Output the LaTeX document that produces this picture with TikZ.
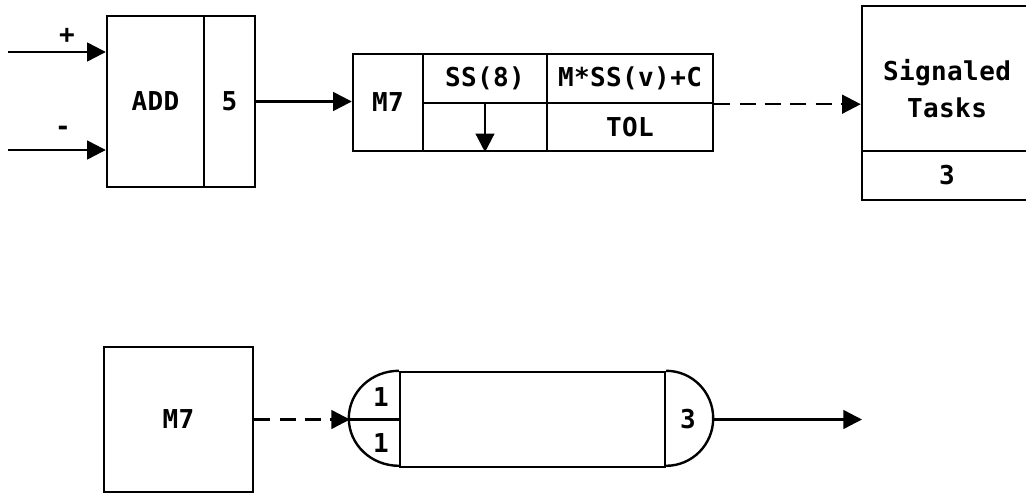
\documentclass[tikz,border=0pt]{standalone}
\usepackage{fontspec}
\newfontfamily\lab{DejaVu Sans Mono Bold}[LetterSpace=1.5]
\usetikzlibrary{arrows.meta}
\begin{document}
\begin{tikzpicture}[x=0.75pt,y=0.75pt,line width=1.8pt,
  every node/.style={font=\lab\fontsize{19.5}{27.75}\selectfont,inner sep=0pt},
  box/.style={draw,rectangle,inner sep=0pt},
  arr/.style={-{Triangle[length=14pt,width=14pt]}},
  dsh/.style={arr,dash pattern=on 12pt off 7pt}]
\clip (0,0) rectangle (1026,494);
% top left: ADD
\node[box,minimum width=72.75pt,minimum height=128.25pt] (addL) at (155.5,392.5) {ADD};
\node[box,minimum width=38.25pt,minimum height=128.25pt] (addR) at (229.5,392.5) {5};
\coordinate (inP) at (8,442);
\coordinate (inM) at (8,344);
\draw[arr] (inP) -- (inP -| addL.west);
\draw[arr] (inM) -- (inM -| addL.west);
\node (plus) at (67,458) {+};
\node (minus) at (63,363) {-};
% middle block
\node[box,minimum width=52.5pt,minimum height=72.75pt] (m7) at (388,391.5) {M7};
\node[box,minimum width=93pt,minimum height=36.75pt] (ss8) at (485,415.5) {SS(8)};
\node[box,minimum width=93pt,minimum height=36pt] (ssb) at (485,367) {};
\node[box,minimum width=124.5pt,minimum height=36.75pt] (mss) at (630,415.5) {M*SS(v)+C};
\node[box,minimum width=124.5pt,minimum height=36pt] (tol) at (630,367) {TOL};
\draw[arr] (addR.east) -- (addR.east -| m7.west);
\draw[arr] (ssb.north) -- (ssb.south);
% signaled tasks
\node[box,minimum width=127.5pt,minimum height=108.75pt] (sig) at (947,415.5) {};
\node[box,minimum width=127.5pt,minimum height=36.75pt] (sigb) at (947,318.5) {3};
\node[align=center] (sigtxt) at (947,405) {Signaled\\Tasks};
\draw[dsh] (mss.south east) -- (mss.south east -| sig.west);
% bottom
\node[box,minimum width=111.75pt,minimum height=108.75pt] (m7b) at (178.5,74.5) {M7};
\node[box,minimum width=198.75pt,minimum height=71.25pt] (cap) at (532.5,74.5) {};
\draw (cap.north west) arc[start angle=90,end angle=270,x radius=50,y radius=47.5];
\draw (cap.north east) arc[start angle=90,end angle=-90,x radius=47,y radius=47.5];
\coordinate (capL) at (350,74.5);
\coordinate (capR) at (712,74.5);
\coordinate (out) at (862,74.5);
\draw (capL) -- (cap.west);
\node (one1) at (381,97) {1};
\node (one2) at (381,51) {1};
\node (three) at (688,74.5) {3};
\draw[dsh] (m7b.east) -- (capL);
\draw[arr] (capR) -- (out);
\end{tikzpicture}
\end{document}
